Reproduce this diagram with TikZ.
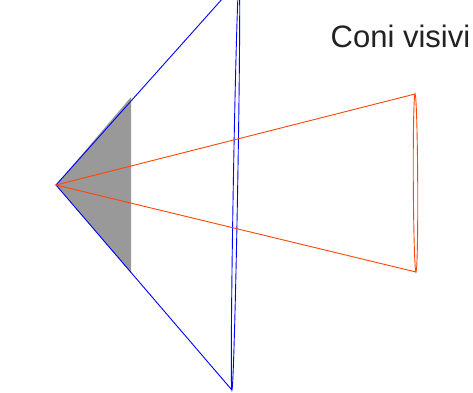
\documentclass[tikz,border=0pt]{standalone}
\usepackage{fontspec}
\setmainfont{Liberation Sans}
\definecolor{conered}{RGB}{255,69,0}
\definecolor{conegray}{RGB}{153,153,153}
\definecolor{textgray}{RGB}{34,34,34}
\begin{document}
\begin{tikzpicture}[x=1pt,y=-1pt,
  bluecone/.style={draw=blue,line width=0.9pt},
  redcone/.style={draw=conered,line width=0.9pt},
  label/.style={font=\fontsize{31}{36}\selectfont,text=textgray,anchor=base west,inner sep=0pt}]
\useasboundingbox (0,0) rectangle (473,392);
\clip (0,0) rectangle (473,392);
\coordinate (apex) at (56,185);
\coordinate (bt) at (239.1,-20);
\coordinate (bb) at (231.9,390);
\coordinate (rt) at (415,94);
\coordinate (rb) at (416,272);
\coordinate (gt) at (131,97);
\coordinate (gb) at (131,273);
\fill[conegray] (apex) -- (gt) -- (gb) -- cycle;
\draw[bluecone] (bt) -- (apex) -- (bb);
\draw[bluecone] (235.5,185) ellipse [x radius=2.2, y radius=205, rotate=-1];
\draw[redcone] (rt) -- (apex) -- (rb);
\draw[redcone] (415.5,183) ellipse [x radius=2.2, y radius=89, rotate=0.3];
\node[label] (title) at (330.5,47) {Coni visivi};
\end{tikzpicture}
\end{document}
